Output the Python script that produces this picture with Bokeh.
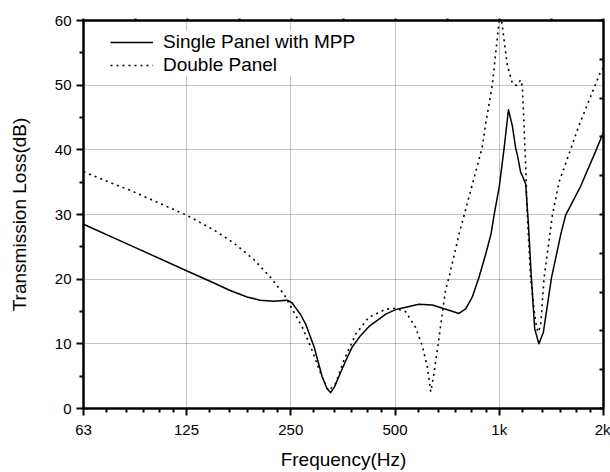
from bokeh.plotting import figure
from bokeh.models import (FixedTicker, Range1d, LinearScale, LinearAxis, Legend,
                          LegendItem, CustomLabelingPolicy)
from bokeh.embed import file_html
from bokeh.resources import INLINE

# ---- data ----
single_freq = [63, 88, 125, 150, 167, 187, 204, 223, 244, 252, 258, 267, 276, 292, 308, 318, 326, 334, 344,
               360, 376, 398, 420, 470, 500, 586, 641, 716, 765, 800, 836, 874, 914, 946, 966, 1000, 1032,
               1063, 1091, 1115, 1129, 1153, 1166, 1192, 1214, 1238, 1266, 1302, 1341, 1415, 1505, 1555,
               1719, 1899, 2000]
single_tl = [28.5, 25.0, 21.3, 19.4, 18.25, 17.25, 16.75, 16.6, 16.75, 16.35, 15.6, 14.5, 13.05, 9.5, 4.9, 3.1,
             2.45, 3.3, 4.9, 7.35, 9.5, 11.3, 12.65, 14.6, 15.26, 16.12, 16.0, 15.2, 14.7, 15.4, 17.25, 20.3,
             23.9, 26.9, 29.9, 34.3, 40.1, 46.2, 43.7, 40.3, 39.1, 36.5, 36.0, 34.7, 28.5, 20.2, 12.3, 10.0,
             11.8, 20.2, 26.9, 29.9, 34.4, 39.8, 42.7]

double_freq = [63, 88, 125, 150, 171, 196, 219, 239, 253, 270, 288, 305, 319, 322, 337, 356, 385, 420, 470,
               500, 536, 573, 599, 620, 634, 648, 670, 700, 716, 765, 893, 914, 955, 998, 1006, 1017, 1055,
               1091, 1122, 1153, 1166, 1179, 1192, 1205, 1219, 1232, 1262, 1282, 1294, 1317, 1347, 1424,
               1488, 1608, 1700, 1850, 1963, 2000]
double_tl = [36.6, 33.5, 29.9, 27.6, 25.6, 23.0, 20.2, 17.65, 15.3, 12.55, 9.0, 5.4, 3.1, 2.75, 3.9, 7.45,
             11.5, 14.1, 15.35, 15.5, 15.0, 12.55, 9.75, 6.4, 2.6, 5.4, 11.0, 18.4, 20.3, 26.9, 40.4, 44.1,
             50.05, 59.7, 61.6, 59.7, 53.1, 50.3, 49.95, 50.8, 49.8, 43.9, 37.5, 29.9, 24.8, 20.2, 15.0,
             12.6, 11.8, 12.8, 20.2, 29.9, 35.0, 40.1, 43.8, 48.7, 52.1, 52.7]

x_ticks = [63, 125, 250, 500, 1000, 2000]
x_tick_labels = ["63", "125", "250", "500", "1k", "2k"]
y_ticks = [0, 10, 20, 30, 40, 50, 60]
y_minor_ticks = [5, 15, 25, 35, 45, 55]

FONT = "Liberation Sans"

# minor x ticks: five equal linear steps inside each octave band
x_minor = []
for a, b in zip(x_ticks[:-1], x_ticks[1:]):
    x_minor += [a + (b - a) * k / 6 for k in range(1, 6)]

p = figure(width=610, height=472, x_axis_type="log",
           x_range=Range1d(63, 2000), y_range=Range1d(0, 60),
           output_backend="svg", toolbar_location=None,
           min_border_left=83, min_border_right=7, min_border_top=20, min_border_bottom=60,
           background_fill_color="white", border_fill_color="white")
p.outline_line_color = "black"
p.outline_line_width = 2

xa = p.below[0]
xa.ticker = FixedTicker(ticks=x_ticks, minor_ticks=x_minor)
xa.major_label_overrides = {t: s for t, s in zip(x_ticks, x_tick_labels)}
xa.axis_label = "Frequency(Hz)"
ya = p.left[0]
ya.ticker = FixedTicker(ticks=y_ticks, minor_ticks=y_minor_ticks)
ya.axis_label = "Transmission Loss(dB)"

for ax in (xa, ya):
    ax.axis_line_width = 2
    ax.axis_line_color = "black"
    ax.major_tick_line_color = "black"
    ax.minor_tick_line_color = "black"
    ax.major_tick_line_width = 2
    ax.minor_tick_line_width = 2
    ax.major_tick_in = 0
    ax.minor_tick_in = 0
    ax.major_tick_out = 7
    ax.minor_tick_out = 4
    ax.major_label_text_font = FONT
    ax.major_label_text_font_size = "15px"
    ax.major_label_text_color = "black"
    ax.axis_label_text_font = FONT
    ax.axis_label_text_font_size = "19px"
    ax.axis_label_text_font_style = "normal"
    ax.axis_label_text_color = "black"
    ax.major_label_standoff = 5
xa.axis_label_standoff = 8
ya.axis_label_standoff = 22

for g in (p.xgrid[0], p.ygrid[0]):
    g.grid_line_color = "#8a8a8a"
    g.grid_line_dash = "1 1"
    g.grid_line_width = 1

# frame axes on the top and right, ten equal divisions, no labels
p.extra_x_ranges = {"top": Range1d(0, 10)}
p.extra_x_scales = {"top": LinearScale()}
p.extra_y_ranges = {"right": Range1d(0, 10)}
p.extra_y_scales = {"right": LinearScale()}
div = list(range(11))
top = LinearAxis(x_range_name="top", ticker=FixedTicker(ticks=div, minor_ticks=[]),
                 major_tick_out=2, major_tick_in=0, minor_tick_out=0,
                 axis_line_width=2, major_tick_line_width=2,
                 major_label_policy=CustomLabelingPolicy(code="return []"),
                 major_label_text_font_size="0px", major_label_standoff=0)
right = LinearAxis(y_range_name="right", ticker=FixedTicker(ticks=div, minor_ticks=[]),
                   major_tick_out=0, major_tick_in=4, minor_tick_out=0,
                   axis_line_width=2, major_tick_line_width=2,
                   major_label_policy=CustomLabelingPolicy(code="return []"),
                   major_label_text_font_size="0px", major_label_standoff=0)
p.add_layout(top, "above")
p.add_layout(right, "right")

r1 = p.line(single_freq, single_tl, line_color="black", line_width=1.5, line_join="round")
r2 = p.line(double_freq, double_tl, line_color="black", line_width=1.6, line_dash="2 4")

legend = Legend(items=[LegendItem(label="Single Panel with MPP", renderers=[r1]),
                       LegendItem(label="Double Panel", renderers=[r2])],
                location=(27, 332), margin=0, padding=8, spacing=1,
                glyph_width=43, glyph_height=20, label_height=20, label_standoff=10,
                label_text_font=FONT, label_text_font_size="19px", label_text_color="black",
                border_line_color=None, background_fill_color="white", background_fill_alpha=1.0)
p.add_layout(legend)

open("out.html", "w").write(file_html(p, INLINE))
